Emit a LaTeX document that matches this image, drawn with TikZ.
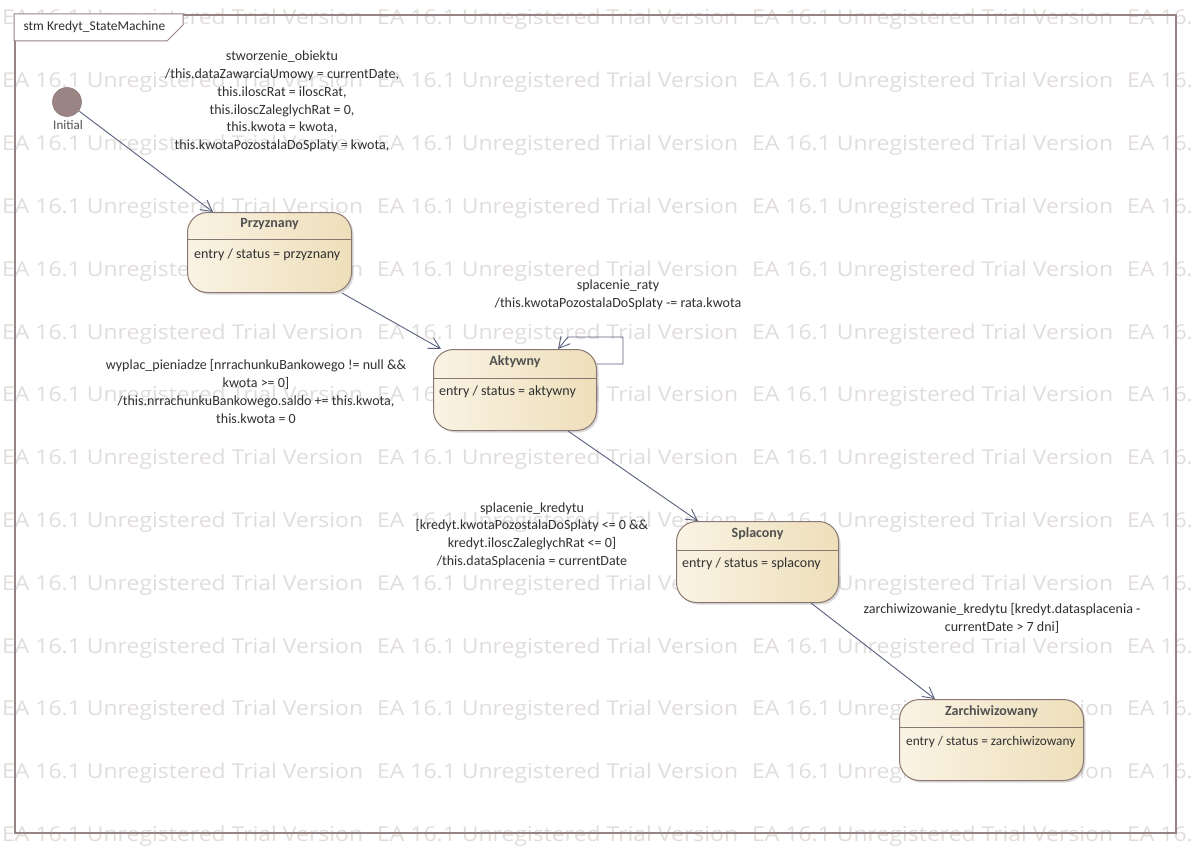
\documentclass[tikz,border=0pt]{standalone}
\usepackage{fontspec}
\setmainfont{Carlito}
\newfontfamily\wmfont[FakeStretch=1.12]{Open Sans}
\usetikzlibrary{arrows.meta,shadows}

\definecolor{wmgray}{RGB}{226,221,221}
\definecolor{framec}{RGB}{150,132,132}
\definecolor{stateedge}{RGB}{138,118,114}
\definecolor{statel}{RGB}{250,243,228}
\definecolor{stater}{RGB}{238,223,186}
\definecolor{arrowc}{RGB}{88,96,124}
\definecolor{initc}{RGB}{155,133,132}
\definecolor{txt}{RGB}{48,48,48}
\definecolor{titletxt}{RGB}{80,80,80}

\tikzset{
  wm/.style={font=\wmfont\fontsize{20.5}{22}\selectfont, text=wmgray, inner sep=0pt},
  statebox/.style={draw=stateedge, line width=1pt, rounded corners=20pt,
    left color=statel, right color=stater, inner sep=0pt,
    drop shadow={shadow xshift=2pt, shadow yshift=-2pt, opacity=0.25, fill=black!60},
    anchor=north west},
  divider/.style={draw=stateedge, line width=0.8pt},
  statetitle/.style={font=\bfseries\fontsize{14}{17}\selectfont, text=titletxt},
  entrytext/.style={anchor=west, text=txt, inner sep=3pt},
  lbl/.style={align=center, text=txt, inner sep=0pt},
  trans/.style={draw=arrowc, line width=0.9pt, -{Straight Barb[length=11pt,width=12pt,line width=0.9pt]}},
}

\begin{document}
\begin{tikzpicture}[x=1pt,y=-1pt, font=\fontsize{14}{17.8}\selectfont]
\useasboundingbox (0,0) rectangle (1194,848);
\fill[white] (0,0) rectangle (1194,848);

% repeated background notice
\foreach \r in {0,...,13}
  \foreach \c in {0,...,3}
    \node[wm, anchor=base west] (wm-\r-\c) at (2+375*\c, 25+62.8*\r) {EA 16.1 Unregistered Trial Version};

% diagram frame and its name tab
\node[draw=framec, line width=1.6pt, minimum width=1161pt, minimum height=818pt, inner sep=0pt, anchor=north west] (frame) at (14,14) {};
\draw[draw=framec, line width=1pt, fill=white] (14,41) -- (167,41) -- (183,25) -- (183,14) -- (14,14) -- cycle;
\node[anchor=west, text=txt, font=\fontsize{13.5}{15}\selectfont] (tab) at (20,27) {stm Kredyt\_StateMachine};

% initial pseudo-state
\node[circle, fill=initc, draw=initc!85!black, line width=0.5pt, minimum size=29pt, inner sep=0pt] (init) at (67,102) {};
\node[text=titletxt, font=\fontsize{13}{15}\selectfont] (initl) at (68,125) {Initial};

% states
\node[statebox, minimum width=164pt, minimum height=80pt] (P) at (187,212) {};
\draw[divider] ([yshift=-27pt]P.north west) -- ([yshift=-27pt]P.north east);
\node[statetitle] (Pt) at ([yshift=-12.5pt]P.north) {Przyznany};
\node[entrytext] (Pe) at ([xshift=4pt,yshift=-43pt]P.north west) {entry / status = przyznany};

\node[statebox, minimum width=163pt, minimum height=81pt] (A) at (433,349) {};
\draw[divider] ([yshift=-29pt]A.north west) -- ([yshift=-29pt]A.north east);
\node[statetitle] (At) at ([yshift=-13pt]A.north) {Aktywny};
\node[entrytext] (Ae) at ([xshift=3pt,yshift=-43pt]A.north west) {entry / status = aktywny};

\node[statebox, minimum width=162pt, minimum height=81pt] (S) at (676,521) {};
\draw[divider] ([yshift=-29pt]S.north west) -- ([yshift=-29pt]S.north east);
\node[statetitle] (St) at ([yshift=-13pt]S.north) {Splacony};
\node[entrytext] (Se) at ([xshift=3pt,yshift=-43pt]S.north west) {entry / status = splacony};

\node[statebox, minimum width=184pt, minimum height=81pt] (Z) at (899,699) {};
\draw[divider] ([yshift=-28pt]Z.north west) -- ([yshift=-28pt]Z.north east);
\node[statetitle] (Zt) at ([yshift=-13pt]Z.north) {Zarchiwizowany};
\node[entrytext, font=\fontsize{13.3}{16}\selectfont] (Ze) at ([xshift=4pt,yshift=-43pt]Z.north west) {entry / status = zarchiwizowany};

% transitions
\draw[trans] (init) -- ([xshift=26pt]P.north west);
\draw[trans] ([xshift=-10pt]P.south east) -- ([xshift=8pt]A.north west);
\draw[trans] ([yshift=-15pt]A.north east) -- ++(26,0) -- ++(0,-27) -- ++(-55,0) -- ([xshift=125pt]A.north west);
\draw[trans] ([xshift=135pt]A.south west) -- ([xshift=22pt]S.north west);
\draw[trans] ([xshift=-28pt]S.south east) -- ([xshift=36pt]Z.north west);

% transition labels
\node[lbl] (l1) at (282,101.5) {stworzenie\_obiektu\\/this.dataZawarciaUmowy = currentDate,\\this.iloscRat = iloscRat,\\this.iloscZaleglychRat = 0,\\this.kwota = kwota,\\this.kwotaPozostalaDoSplaty = kwota,};
\node[lbl] (l2) at (618,294.5) {splacenie\_raty\\/this.kwotaPozostalaDoSplaty -= rata.kwota};
\node[lbl] (l3) at (256,391.5) {wyplac\_pieniadze [nrrachunkuBankowego != null \&\&\\kwota >= 0]\\/this.nrrachunkuBankowego.saldo += this.kwota,\\this.kwota = 0};
\node[lbl] (l4) at (532,535) {splacenie\_kredytu\\{}[kredyt.kwotaPozostalaDoSplaty <= 0 \&\&\\kredyt.iloscZaleglychRat <= 0]\\/this.dataSplacenia = currentDate};
\node[lbl] (l5) at (1002,618) {zarchiwizowanie\_kredytu [kredyt.datasplacenia -\\currentDate > 7 dni]};
\end{tikzpicture}
\end{document}
